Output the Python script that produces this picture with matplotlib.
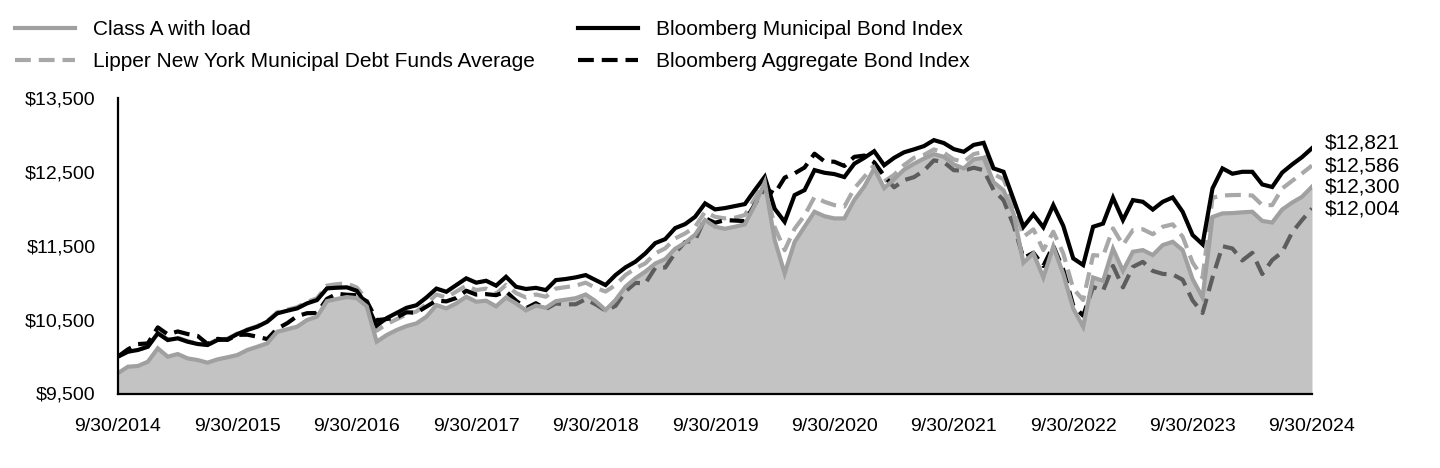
import numpy as np
import matplotlib
matplotlib.use("Agg")
import matplotlib.pyplot as plt
from matplotlib.lines import Line2D

plt.rcParams['font.family'] = ['Liberation Sans', 'DejaVu Sans']

# ---------------- data (monthly, 9/30/2014 .. 9/30/2024) ----------------
series_names = ["Class A with load",
                "Lipper New York Municipal Debt Funds Average",
                "Bloomberg Municipal Bond Index",
                "Bloomberg Aggregate Bond Index"]

class_a = [
    9775, 9863, 9872, 9930, 10111, 9998, 10034, 9975, 9953, 9917,
    9962, 9990, 10021, 10089, 10133, 10179, 10336, 10369, 10404, 10495,
    10540, 10750, 10780, 10805, 10790, 10680, 10201, 10291, 10359, 10413,
    10449, 10540, 10697, 10652, 10720, 10810, 10742, 10756, 10680, 10800,
    10720, 10625, 10690, 10660, 10750, 10770, 10790, 10840, 10750, 10630,
    10765, 10945, 11060, 11150, 11260, 11320, 11460, 11540, 11650, 11848,
    11757, 11730, 11757, 11790, 12050, 12360, 11577, 11126, 11550, 11757,
    11960, 11900, 11870, 11870, 12120, 12300, 12547, 12280, 12400, 12530,
    12610, 12680, 12740, 12704, 12600, 12547, 12670, 12690, 12360, 12250,
    11938, 11270, 11397, 11070, 11490, 11120, 10650, 10404, 11070, 11025,
    11460, 11160, 11419, 11441, 11374, 11509, 11554, 11441, 11049, 10800,
    11890, 11938, 11942, 11953, 11960, 11836, 11814, 11990, 12084, 12163,
    12300]

lipper = [
    10000, 10068, 10092, 10137, 10322, 10232, 10255, 10208, 10178, 10163,
    10232, 10240, 10312, 10367, 10412, 10480, 10600, 10635, 10668, 10740,
    10790, 10960, 10980, 10990, 10935, 10770, 10350, 10440, 10505, 10570,
    10610, 10710, 10840, 10800, 10880, 10960, 10900, 10920, 10850, 10970,
    10860, 10800, 10840, 10810, 10920, 10940, 10960, 11000, 10930, 10880,
    10968, 11103, 11194, 11262, 11397, 11465, 11600, 11667, 11757, 11960,
    11892, 11870, 11880, 11915, 12141, 12366, 11750, 11440, 11730, 11910,
    12160, 12095, 12050, 12030, 12276, 12433, 12592, 12370, 12460, 12592,
    12690, 12730, 12804, 12760, 12668, 12637, 12740, 12772, 12470, 12400,
    12073, 11622, 11722, 11441, 11690, 11397, 10920, 10765, 11374, 11360,
    11735, 11510, 11712, 11723, 11656, 11757, 11790, 11622, 11273, 11070,
    12150, 12180, 12186, 12188, 12180, 12050, 12050, 12275, 12378, 12479,
    12586]

muni = [
    10000, 10066, 10089, 10133, 10315, 10224, 10247, 10201, 10170, 10156,
    10224, 10233, 10305, 10360, 10404, 10472, 10585, 10620, 10652, 10720,
    10765, 10923, 10932, 10937, 10890, 10700, 10420, 10520, 10590, 10660,
    10695, 10800, 10920, 10877, 10968, 11059, 11000, 11026, 10960, 11080,
    10945, 10915, 10930, 10900, 11035, 11050, 11072, 11103, 11035, 10968,
    11103, 11207, 11284, 11397, 11536, 11590, 11739, 11793, 11892, 12073,
    11992, 12010, 12037, 12064, 12253, 12433, 12000, 11824, 12186, 12253,
    12524, 12488, 12470, 12430, 12610, 12690, 12780, 12590, 12690, 12765,
    12805, 12849, 12930, 12890, 12808, 12772, 12865, 12893, 12547, 12501,
    12130, 11757, 11925, 11750, 12050, 11770, 11329, 11239, 11757, 11800,
    12150, 11848, 12118, 12095, 11990, 12095, 12154, 11960, 11645, 11520,
    12276, 12547, 12475, 12501, 12501, 12330, 12295, 12490, 12600, 12700,
    12821]

aggregate = [
    10000, 10098, 10169, 10178, 10395, 10300, 10340, 10305, 10280, 10170,
    10240, 10225, 10294, 10296, 10269, 10236, 10377, 10451, 10547, 10587,
    10590, 10781, 10849, 10837, 10830, 10748, 10493, 10508, 10529, 10599,
    10594, 10676, 10758, 10747, 10793, 10891, 10839, 10845, 10831, 10881,
    10756, 10654, 10722, 10643, 10719, 10706, 10708, 10776, 10707, 10622,
    10686, 10882, 10997, 10991, 11202, 11205, 11405, 11549, 11574, 11874,
    11811, 11847, 11841, 11833, 12060, 12277, 12205, 12422, 12480, 12559,
    12746, 12643, 12637, 12580, 12703, 12721, 12629, 12447, 12291, 12388,
    12429, 12516, 12656, 12632, 12522, 12518, 12556, 12523, 12254, 12117,
    11780, 11333, 11405, 11226, 11500, 11175, 10692, 10553, 10941, 10892,
    11227, 10936, 11214, 11282, 11159, 11119, 11111, 11040, 10760, 10590,
    11070, 11494, 11463, 11301, 11405, 11117, 11306, 11413, 11680, 11848,
    12004]

x_tick_labels = ["9/30/2014", "9/30/2015", "9/30/2016", "9/30/2017",
                 "9/30/2018", "9/30/2019", "9/30/2020", "9/30/2021",
                 "9/30/2022", "9/30/2023", "9/30/2024"]
y_ticks = [9500, 10500, 11500, 12500, 13500]

# ---------------- figure ----------------
W, H = 1440, 468
fig = plt.figure(figsize=(W / 100, H / 100), dpi=100)
fig.patch.set_facecolor("white")
ax = fig.add_axes([118 / W, 74.5 / H, 1194 / W, 295.5 / H])

months = np.arange(len(class_a))
dash = (0, (3.8, 1.9))
LW = 3.0

ax.plot(months, lipper, color="#a8a8a8", lw=LW, ls=dash, zorder=2,
        solid_joinstyle="miter")
ax.plot(months, aggregate, color="black", lw=LW, ls=dash, zorder=3)
ax.plot(months, muni, color="black", lw=LW, zorder=4, solid_joinstyle="miter")
ax.fill_between(months, y_ticks[0], class_a, color="#9c9c9c", alpha=0.6,
                lw=0, zorder=5)
ax.plot(months, class_a, color="#a0a0a0", lw=LW, zorder=6,
        solid_joinstyle="miter")

ax.set_xlim(months[0], months[-1])
ax.set_ylim(y_ticks[0], y_ticks[-1])
ax.set_xticks(months[::12])
ax.set_xticklabels(x_tick_labels)
ax.set_yticks(y_ticks)
ax.set_yticklabels([f"${v:,}" for v in y_ticks])
ax.tick_params(axis="y", length=0, pad=16, labelsize=14, colors="black")
ax.tick_params(axis="x", length=0, pad=17.5, labelsize=14, colors="black")

for s in ("top", "right"):
    ax.spines[s].set_visible(False)
for s in ("left", "bottom"):
    ax.spines[s].set_color("black")
    ax.spines[s].set_linewidth(1.6)
    ax.spines[s].set_zorder(7)

# end-value labels
ends = [muni[-1], lipper[-1], class_a[-1], aggregate[-1]]
nudges_px = [5, 0, 0, 0]
for v, n in zip(ends, nudges_px):
    ax.annotate(f"${v:,}", xy=(1, v), xycoords=("axes fraction", "data"),
                xytext=(9.5, n * 0.72), textcoords="offset points",
                ha="left", va="center", fontsize=15, annotation_clip=False)

# legend
handles = [
    Line2D([], [], color="#a0a0a0", lw=LW),
    Line2D([], [], color="#a8a8a8", lw=LW, ls=dash),
    Line2D([], [], color="black", lw=LW),
    Line2D([], [], color="black", lw=LW, ls=dash),
]
fig.legend(handles, series_names, ncol=2, loc="upper left",
           bbox_to_anchor=(15 / W, 1 - 20 / H), frameon=False, fontsize=15,
           handlelength=2.88, handletextpad=0.87, columnspacing=2.05,
           labelspacing=0.62, borderpad=0, borderaxespad=0)

fig.savefig("out.png", dpi=100, facecolor="white")
